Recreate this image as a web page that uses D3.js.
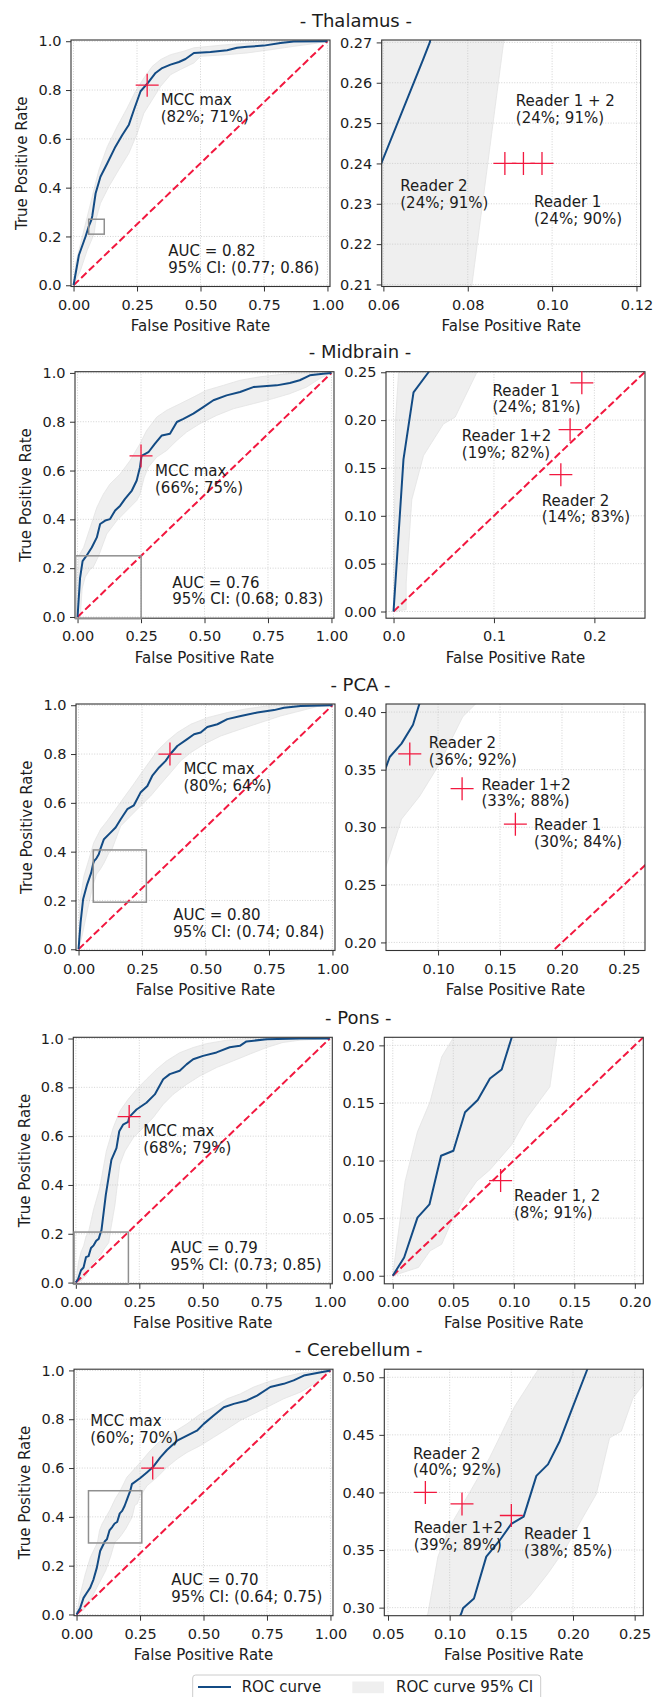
<!DOCTYPE html>
<meta charset="utf-8">
<script src="https://cdn.jsdelivr.net/npm/d3@7"></script>
<html>
<head>
<style>
body { margin: 0; background: #fff; }
svg text { font-family: "DejaVu Sans", sans-serif; fill: #1c1c1c; }
</style>
</head>
<body>
<div id="chart"></div>
<script>
// ---------------- data ----------------
var regions = ["Thalamus", "Midbrain", "PCA", "Pons", "Cerebellum"];
var aucValues = ["0.82", "0.76", "0.80", "0.79", "0.70"];
var ciLow = ["0.77", "0.68", "0.74", "0.73", "0.64"];
var ciHigh = ["0.86", "0.83", "0.84", "0.85", "0.75"];
var mccFpr = [0.29, 0.25, 0.36, 0.21, 0.30];
var mccTpr = [0.82, 0.66, 0.80, 0.68, 0.60];
var mccLabels = ["(82%; 71%)", "(66%; 75%)", "(80%; 64%)", "(68%; 79%)", "(60%; 70%)"];

// [fpr, tpr]
var thalamusRoc = [[0,0],[0.021,0.123],[0.047,0.199],[0.0595,0.24],[0.0695,0.266],[0.071,0.27],[0.074,0.285],[0.087,0.377],[0.106,0.445],[0.133,0.50],[0.165,0.568],[0.192,0.616],[0.218,0.658],[0.238,0.719],[0.264,0.795],[0.293,0.829],[0.323,0.870],[0.349,0.890],[0.382,0.904],[0.415,0.915],[0.441,0.927],[0.474,0.952],[0.539,0.956],[0.605,0.963],[0.644,0.973],[0.684,0.977],[0.749,0.982],[0.815,0.993],[0.867,0.999],[1,1]];
var thalamusUpper = [[0,0],[0.008,0.089],[0.028,0.171],[0.054,0.281],[0.080,0.390],[0.100,0.473],[0.133,0.568],[0.172,0.651],[0.211,0.726],[0.244,0.795],[0.277,0.849],[0.310,0.897],[0.343,0.925],[0.382,0.945],[0.434,0.959],[0.474,0.973],[0.605,0.986],[0.736,0.996],[0.802,1],[1,1]];
var thalamusLower = [[0,0],[0.027,0.06],[0.054,0.144],[0.081,0.21],[0.0885,0.27],[0.106,0.336],[0.139,0.404],[0.178,0.473],[0.218,0.541],[0.251,0.623],[0.277,0.705],[0.310,0.760],[0.343,0.815],[0.382,0.863],[0.421,0.884],[0.474,0.911],[0.5,0.938],[0.605,0.945],[0.684,0.952],[0.762,0.963],[0.867,0.979],[0.946,0.990],[1,1]];

var midbrainRoc = [[0,0],[0.0099,0.159],[0.0199,0.229],[0.0348,0.25],[0.056,0.285],[0.076,0.326],[0.089,0.381],[0.109,0.395],[0.128,0.401],[0.148,0.436],[0.168,0.456],[0.187,0.484],[0.214,0.518],[0.233,0.559],[0.246,0.614],[0.252,0.66],[0.279,0.675],[0.305,0.71],[0.332,0.744],[0.364,0.751],[0.391,0.799],[0.417,0.812],[0.456,0.833],[0.495,0.86],[0.535,0.888],[0.587,0.908],[0.640,0.922],[0.692,0.942],[0.784,0.949],[0.836,0.959],[0.875,0.970],[0.915,0.990],[0.967,0.997],[1,1]];
var midbrainUpper = [[0,0],[0.001,0.10],[0.002,0.20],[0.005,0.25],[0.024,0.285],[0.05,0.367],[0.076,0.449],[0.102,0.504],[0.128,0.545],[0.168,0.586],[0.207,0.641],[0.246,0.71],[0.272,0.764],[0.312,0.819],[0.351,0.847],[0.404,0.874],[0.456,0.901],[0.508,0.929],[0.574,0.949],[0.640,0.970],[0.718,0.984],[0.81,0.995],[0.875,1],[1,1]];
var midbrainLower = [[0,0],[0.0126,0.002],[0.0126,0.03],[0.0182,0.117],[0.0299,0.163],[0.0497,0.196],[0.0613,0.203],[0.083,0.25],[0.115,0.34],[0.155,0.395],[0.194,0.436],[0.233,0.477],[0.245,0.50],[0.262,0.57],[0.279,0.614],[0.312,0.655],[0.351,0.682],[0.391,0.723],[0.43,0.758],[0.482,0.792],[0.548,0.826],[0.613,0.853],[0.692,0.874],[0.771,0.895],[0.836,0.915],[0.902,0.942],[0.954,0.977],[1,1]];

var pcaRoc = [[0,0],[0.008,0.109],[0.018,0.205],[0.034,0.266],[0.05,0.314],[0.0578,0.3516],[0.061,0.361],[0.0705,0.3726],[0.0798,0.389],[0.0852,0.408],[0.1,0.451],[0.126,0.478],[0.146,0.499],[0.166,0.533],[0.192,0.574],[0.218,0.590],[0.244,0.642],[0.271,0.669],[0.290,0.710],[0.317,0.745],[0.343,0.772],[0.36,0.798],[0.389,0.833],[0.428,0.861],[0.455,0.881],[0.481,0.888],[0.507,0.911],[0.547,0.922],[0.586,0.943],[0.639,0.956],[0.704,0.970],[0.770,0.980],[0.809,0.990],[0.875,0.997],[1,1]];
var pcaUpper = [[0,0],[0.005,0.191],[0.021,0.30],[0.041,0.369],[0.06,0.437],[0.087,0.492],[0.113,0.526],[0.146,0.574],[0.179,0.622],[0.212,0.669],[0.244,0.717],[0.277,0.765],[0.31,0.813],[0.35,0.854],[0.389,0.888],[0.442,0.922],[0.507,0.949],[0.586,0.970],[0.665,0.986],[0.744,0.997],[0.81,1],[1,1]];
var pcaLower = [[0,0],[0.014,0.055],[0.035,0.16],[0.0578,0.2653],[0.0705,0.307],[0.0852,0.327],[0.10,0.353],[0.120,0.396],[0.1312,0.408],[0.166,0.505],[0.205,0.546],[0.244,0.587],[0.284,0.628],[0.323,0.676],[0.363,0.724],[0.402,0.772],[0.442,0.806],[0.494,0.840],[0.56,0.874],[0.639,0.902],[0.717,0.929],[0.796,0.956],[0.875,0.977],[0.941,0.995],[1,1]];

var ponsRoc = [[0,0],[0.0094,0.0158],[0.0204,0.0504],[0.0303,0.0619],[0.0399,0.1042],[0.0501,0.1085],[0.0597,0.1419],[0.0702,0.1525],[0.0803,0.1712],[0.09,0.179],[0.0982,0.2066],[0.101,0.215],[0.118,0.359],[0.140,0.503],[0.160,0.551],[0.171,0.62],[0.186,0.647],[0.206,0.658],[0.21,0.678],[0.239,0.709],[0.278,0.737],[0.311,0.771],[0.344,0.833],[0.37,0.854],[0.409,0.868],[0.436,0.894],[0.462,0.915],[0.501,0.929],[0.554,0.943],[0.606,0.964],[0.646,0.970],[0.672,0.988],[0.751,0.997],[0.882,1.0],[1,1]];
var ponsUpper = [[0,0],[0.0019,0.0158],[0.0102,0.082],[0.0204,0.125],[0.0308,0.151],[0.0404,0.19],[0.05,0.2066],[0.07,0.30],[0.094,0.387],[0.12,0.538],[0.147,0.634],[0.173,0.702],[0.206,0.751],[0.239,0.792],[0.278,0.833],[0.318,0.874],[0.357,0.908],[0.409,0.942],[0.462,0.963],[0.514,0.979],[0.593,0.993],[0.685,1],[1,1]];
var ponsLower = [[0,0],[0.0212,0.0072],[0.0308,0.0216],[0.0404,0.0273],[0.05,0.0504],[0.0597,0.0676],[0.0693,0.082],[0.0803,0.092],[0.0982,0.1137],[0.1106,0.1367],[0.1298,0.164],[0.1354,0.2058],[0.154,0.318],[0.173,0.483],[0.193,0.538],[0.226,0.593],[0.265,0.634],[0.304,0.675],[0.344,0.730],[0.383,0.771],[0.436,0.812],[0.488,0.846],[0.554,0.881],[0.619,0.908],[0.685,0.936],[0.751,0.963],[0.816,0.984],[0.882,0.993],[1,1]];

var cerebellumRoc = [[0,0],[0.0145,0.027],[0.0276,0.068],[0.0407,0.089],[0.054,0.11],[0.067,0.144],[0.08,0.192],[0.093,0.26],[0.1095,0.2951],[0.1108,0.2994],[0.1197,0.308],[0.1297,0.3443],[0.1405,0.3583],[0.15,0.3727],[0.16,0.379],[0.1703,0.4144],[0.1797,0.4244],[0.1892,0.4445],[0.20,0.4747],[0.2114,0.5063],[0.218,0.534],[0.251,0.559],[0.277,0.582],[0.30,0.603],[0.33,0.644],[0.356,0.674],[0.396,0.712],[0.435,0.733],[0.474,0.753],[0.501,0.781],[0.54,0.815],[0.58,0.849],[0.619,0.863],[0.671,0.877],[0.711,0.897],[0.763,0.932],[0.816,0.945],[0.855,0.959],[0.895,0.979],[0.947,0.989],[1,1]];
var cerebellumUpper = [[0,0],[0.0145,0.082],[0.034,0.164],[0.054,0.233],[0.0824,0.2951],[0.0905,0.3443],[0.10,0.3701],[0.1162,0.40],[0.1324,0.4302],[0.1527,0.4747],[0.1716,0.5063],[0.198,0.562],[0.251,0.623],[0.29,0.671],[0.33,0.712],[0.382,0.747],[0.435,0.781],[0.488,0.822],[0.54,0.849],[0.593,0.884],[0.645,0.904],[0.698,0.932],[0.75,0.952],[0.816,0.973],[0.882,0.989],[0.947,0.997],[1,1]];
var cerebellumLower = [[0,0],[0.03,0.02],[0.06,0.07],[0.09,0.13],[0.115,0.18],[0.135,0.24],[0.15,0.2951],[0.1649,0.3095],[0.1797,0.3296],[0.1946,0.3526],[0.2081,0.3785],[0.2189,0.3986],[0.2297,0.4474],[0.2392,0.4532],[0.2486,0.4819],[0.2568,0.4934],[0.277,0.527],[0.317,0.562],[0.356,0.603],[0.396,0.637],[0.435,0.664],[0.488,0.692],[0.54,0.726],[0.593,0.760],[0.645,0.795],[0.698,0.822],[0.75,0.849],[0.816,0.884],[0.882,0.911],[0.947,0.952],[1,1]];

// reader operating points (name, fpr, tpr, sens/spec label)
var thalamusReaders = [["Reader 2", 0.0888, 0.24, "(24%; 91%)"], ["Reader 1 + 2", 0.0932, 0.24, "(24%; 91%)"], ["Reader 1", 0.0976, 0.24, "(24%; 90%)"]];
var midbrainReaders = [["Reader 1", 0.1875, 0.239, "(24%; 81%)"], ["Reader 1+2", 0.1758, 0.19, "(19%; 82%)"], ["Reader 2", 0.1666, 0.143, "(14%; 83%)"]];
var pcaReaders = [["Reader 2", 0.0772, 0.3637, "(36%; 92%)"], ["Reader 1+2", 0.1194, 0.3335, "(33%; 88%)"], ["Reader 1", 0.1624, 0.3027, "(30%; 84%)"]];
var ponsReaders = [["Reader 1, 2", 0.0891, 0.0826, "(8%; 91%)"]];
var cerebellumReaders = [["Reader 2", 0.0803, 0.40, "(40%; 92%)"], ["Reader 1+2", 0.110, 0.39, "(39%; 89%)"], ["Reader 1", 0.150, 0.38, "(38%; 85%)"]];

// tick values
var fullTicksX = [0, 0.25, 0.5, 0.75, 1];
var fullTicksY = [0, 0.2, 0.4, 0.6, 0.8, 1];
var zoomTicksX = [[0.06, 0.08, 0.10, 0.12], [0, 0.1, 0.2], [0.10, 0.15, 0.20, 0.25], [0, 0.05, 0.10, 0.15, 0.20], [0.05, 0.10, 0.15, 0.20, 0.25]];
var zoomTicksY = [[0.21, 0.22, 0.23, 0.24, 0.25, 0.26, 0.27], [0, 0.05, 0.10, 0.15, 0.20, 0.25], [0.20, 0.25, 0.30, 0.35, 0.40], [0, 0.05, 0.10, 0.15, 0.20], [0.30, 0.35, 0.40, 0.45, 0.50]];
var zoomFormatX = [".2f", ".1f", ".2f", ".2f", ".2f"];

// ---------------- layout ----------------
var W = 669, H = 1697;
var pw = 259, ph = 246.5;
var rowTop = [40, 371.7, 704, 1037.3, 1369.2];
var leftX = [71, 75, 76, 73.3, 74];
var rightX = [381.7, 386, 386, 384.3, 384.3];
var fullDomainX = [-0.01, 1.01], fullDomainY = [-0.005, 1.005];
var zoomDomainX = [[0.0596, 0.121], [-0.0075, 0.2504], [0.058, 0.267], [-0.007, 0.207], [0.047, 0.257]];
var zoomDomainY = [[0.2095, 0.2706], [-0.007, 0.2506], [0.193, 0.407], [-0.007, 0.207], [0.293, 0.507]];
// text anchors in data units (left edge, centre of first line)
var mccTextAt = [[0.343, 0.76], [0.305, 0.60], [0.413, 0.738], [0.265, 0.62], [0.054, 0.792]];
var aucTextAt = [0.373, 0.142];
var readerTextAt = [
  [[0.064, 0.2345], [0.0914, 0.2556], [0.0957, 0.2304]],
  [[0.0985, 0.231], [0.068, 0.1837], [0.1477, 0.116]],
  [[0.0925, 0.3732], [0.135, 0.3372], [0.1774, 0.302]],
  [[0.1001, 0.069]],
  [[0.0703, 0.4339], [0.0708, 0.369], [0.1603, 0.364]]
];

var rocBlue = "#134b84", red = "#f2183f", bandGray = "#efefef";
var fontSize = 15, tickFont = 14.5, lineGap = 16.8;

var rocs = [thalamusRoc, midbrainRoc, pcaRoc, ponsRoc, cerebellumRoc];
var uppers = [thalamusUpper, midbrainUpper, pcaUpper, ponsUpper, cerebellumUpper];
var lowers = [thalamusLower, midbrainLower, pcaLower, ponsLower, cerebellumLower];
var readers = [thalamusReaders, midbrainReaders, pcaReaders, ponsReaders, cerebellumReaders];

var svg = d3.select("#chart").append("svg")
  .attr("width", W).attr("height", H);
svg.append("rect").attr("width", W).attr("height", H).attr("fill", "#fff");
var defs = svg.append("defs");

function textLines(g, x, y, lines, size) {
  var t = g.append("text").attr("x", x).attr("y", y + 5.2).attr("font-size", size || fontSize);
  lines.forEach(function(s, k) {
    t.append("tspan").attr("x", x).attr("dy", k == 0 ? 0 : lineGap).text(s);
  });
}

function cross(g, cx, cy) {
  g.append("path")
    .attr("d", "M" + (cx - 11.5) + "," + cy + "H" + (cx + 11.5) + "M" + cx + "," + (cy - 11.5) + "V" + (cy + 11.5))
    .attr("stroke", red).attr("stroke-width", 1.3).attr("fill", "none");
}

function drawPanel(i, px, py, xDom, yDom, xTicks, yTicks, fx, fy, zoomed) {
  var g = svg.append("g").attr("transform", "translate(" + px + "," + py + ")");
  var x = d3.scaleLinear().domain(xDom).range([0, pw]);
  var y = d3.scaleLinear().domain(yDom).range([ph, 0]);
  var line = d3.line().x(function(d) { return x(d[0]); }).y(function(d) { return y(d[1]); });
  var cid = "clip" + i + (zoomed ? "z" : "f");
  defs.append("clipPath").attr("id", cid).append("rect").attr("width", pw).attr("height", ph);
  var plot = g.append("g").attr("clip-path", "url(#" + cid + ")");

  // CI band
  var poly = uppers[i].concat(lowers[i].slice().reverse());
  plot.append("path").attr("d", line(poly) + "Z")
    .attr("fill", bandGray).attr("stroke", "#e3e3e3").attr("stroke-width", 0.8);

  // grid
  xTicks.forEach(function(t) {
    plot.append("line").attr("x1", x(t)).attr("x2", x(t)).attr("y1", 0).attr("y2", ph)
      .attr("stroke", "#c8c8c8").attr("stroke-width", 0.8).attr("stroke-dasharray", "1,1.6");
  });
  yTicks.forEach(function(t) {
    plot.append("line").attr("y1", y(t)).attr("y2", y(t)).attr("x1", 0).attr("x2", pw)
      .attr("stroke", "#c8c8c8").attr("stroke-width", 0.8).attr("stroke-dasharray", "1,1.6");
  });

  // chance line
  plot.append("path").datum([[0, 0], [1, 1]]).attr("d", line)
    .attr("fill", "none").attr("stroke", red).attr("stroke-width", 2)
    .attr("stroke-dasharray", "7.4,3.2");

  // ROC curve
  plot.append("path").datum(rocs[i]).attr("d", line)
    .attr("fill", "none").attr("stroke", rocBlue).attr("stroke-width", 2)
    .attr("stroke-linejoin", "round");

  // frame
  g.append("rect").attr("width", pw).attr("height", ph)
    .attr("fill", "none").attr("stroke", "#333").attr("stroke-width", 1.1);

  // axes
  var ax = g.append("g").attr("transform", "translate(0," + ph + ")")
    .call(d3.axisBottom(x).tickValues(xTicks).tickFormat(d3.format(fx))
      .tickSize(5).tickPadding(8).tickSizeOuter(0));
  var ay = g.append("g")
    .call(d3.axisLeft(y).tickValues(yTicks).tickFormat(d3.format(fy))
      .tickSize(5).tickPadding(4.5).tickSizeOuter(0));
  [ax, ay].forEach(function(a) {
    a.select(".domain").remove();
    a.attr("font-family", null).attr("font-size", null);
    a.selectAll("text").attr("font-size", tickFont).attr("fill", "#1c1c1c");
    a.selectAll("line").attr("stroke", "#333").attr("stroke-width", 1);
  });

  g.append("text").attr("x", pw / 2).attr("y", ph + 44.5)
    .attr("text-anchor", "middle").attr("font-size", fontSize).text("False Positive Rate");

  return { g: g, x: x, y: y };
}

regions.forEach(function(name, i) {
  var top = rowTop[i];

  svg.append("text")
    .attr("x", (leftX[i] + rightX[i] + pw) / 2).attr("y", top - 13.5)
    .attr("text-anchor", "middle").attr("font-size", 18)
    .text("- " + name + " -");

  // full ROC
  var L = drawPanel(i, leftX[i], top, fullDomainX, fullDomainY, fullTicksX, fullTicksY, ".2f", ".1f", false);
  // zoom box
  var zx = zoomDomainX[i], zy = zoomDomainY[i];
  L.g.append("rect")
    .attr("x", L.x(zx[0])).attr("y", L.y(zy[1]))
    .attr("width", L.x(zx[1]) - L.x(zx[0])).attr("height", L.y(zy[0]) - L.y(zy[1]))
    .attr("fill", "none").attr("stroke", "#8f8f8f").attr("stroke-width", 1.5);
  cross(L.g, L.x(mccFpr[i]), L.y(mccTpr[i]));
  textLines(L.g, L.x(mccTextAt[i][0]), L.y(mccTextAt[i][1]), ["MCC max", mccLabels[i]]);
  textLines(L.g, L.x(aucTextAt[0]), L.y(aucTextAt[1]),
    ["AUC = " + aucValues[i], "95% CI: (" + ciLow[i] + "; " + ciHigh[i] + ")"]);
  L.g.append("text")
    .attr("transform", "translate(-43.6," + (ph / 2) + ") rotate(-90)")
    .attr("text-anchor", "middle").attr("font-size", fontSize)
    .text("True Positive Rate");

  // zoomed ROC with readers
  var R = drawPanel(i, rightX[i], top, zx, zy, zoomTicksX[i], zoomTicksY[i], zoomFormatX[i], ".2f", true);
  readers[i].forEach(function(r, k) {
    cross(R.g, R.x(r[1]), R.y(r[2]));
    var at = readerTextAt[i][k];
    textLines(R.g, R.x(at[0]), R.y(at[1]), [r[0], r[3]]);
  });
});

// legend
var lg = svg.append("g");
lg.append("rect").attr("x", 192.7).attr("y", 1675).attr("width", 348).attr("height", 34)
  .attr("rx", 3).attr("fill", "#fff").attr("stroke", "#cccccc").attr("stroke-width", 1);
lg.append("line").attr("x1", 198).attr("x2", 231).attr("y1", 1687).attr("y2", 1687)
  .attr("stroke", rocBlue).attr("stroke-width", 2);
lg.append("text").attr("x", 241.7).attr("y", 1692.4).attr("font-size", fontSize).text("ROC curve");
lg.append("rect").attr("x", 352.3).attr("y", 1681.5).attr("width", 31.7).attr("height", 11.7)
  .attr("fill", bandGray);
lg.append("text").attr("x", 396).attr("y", 1692.4).attr("font-size", fontSize).text("ROC curve 95% CI");
</script>
</body>
</html>
